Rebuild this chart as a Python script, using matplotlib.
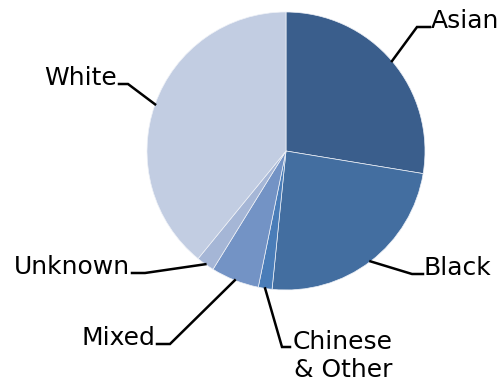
import numpy as np
import matplotlib
matplotlib.use("Agg")
import matplotlib.pyplot as plt

# slice order: clockwise from 12 o'clock
labels = ["Asian", "Black", "Chinese\n& Other", "Mixed", "Unknown", "White"]
shares = [27.6, 24.0, 1.6, 5.6, 2.1, 39.1]
colors = ["#3A5E8C", "#436EA0", "#4A7DB8", "#7393C5", "#A5B6D6", "#C2CDE2"]

# label placement (pixels from top-left): elbow point, end of horizontal tick
elbows = [(417, 27), (412, 274), (282, 347), (170, 344), (145, 273), (128, 84)]
ticks_end = [(430, 27), (423, 274), (290, 347), (157, 344), (132, 273), (119, 84)]

W, H = 502, 384
fig = plt.figure(figsize=(W / 100, H / 100), dpi=100)
ax = fig.add_axes([0, 0, 1, 1])

cx, cy, r = 286, H - 151, 139
wedges, _ = ax.pie(shares, colors=colors, startangle=90, counterclock=False,
                   center=(cx, cy), radius=r, frame=True,
                   wedgeprops=dict(edgecolor="#EEF1F7", linewidth=0.5))
ax.set_xlim(0, W)
ax.set_ylim(0, H)
ax.axis("off")

for w, lab, el, te in zip(wedges, labels, elbows, ticks_end):
    mid = np.deg2rad((w.theta1 + w.theta2) / 2)
    sx, sy = cx + r * np.cos(mid), cy + r * np.sin(mid)
    ex, ey = el[0], H - el[1]
    tx, ty = te[0], H - te[1]
    ax.plot([sx, ex, tx], [sy, ey, ty], color="black", lw=1.8,
            solid_joinstyle="miter", zorder=3)
    right = tx > ex
    if "\n" in lab:
        ax.text(tx + 3, ty + 17, lab, ha="left", va="top", multialignment="center",
                fontsize=18, family="DejaVu Sans", linespacing=1.2)
    else:
        ax.text(tx + (1 if right else -2), ty - 1, lab,
                ha="left" if right else "right", va="baseline",
                fontsize=18, family="DejaVu Sans")

fig.savefig("out.png", dpi=100)
